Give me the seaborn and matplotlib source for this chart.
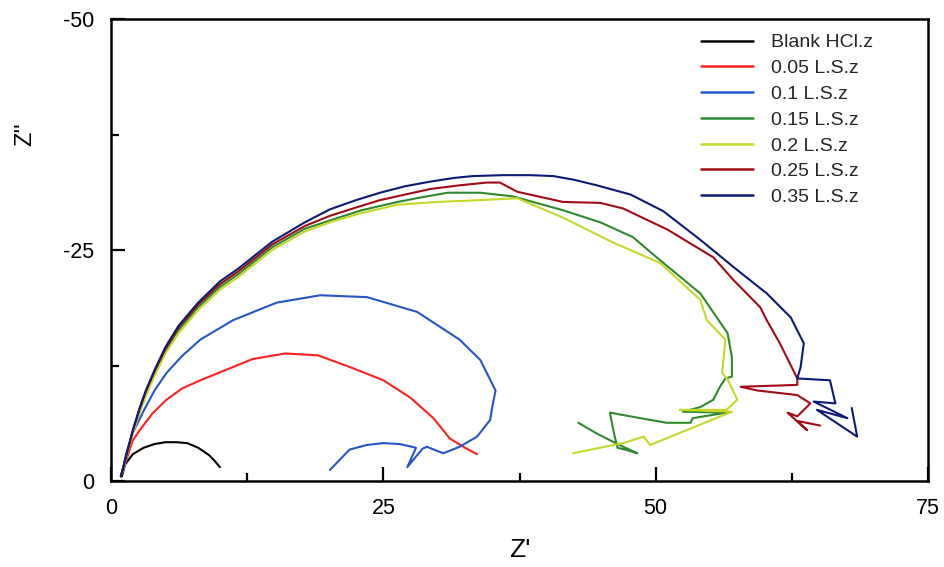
import matplotlib
matplotlib.use("Agg")
import matplotlib.pyplot as plt
import seaborn as sns
import pandas as pd
from matplotlib.ticker import MultipleLocator

# ---------------- data (Z' , -Z'') ----------------
labels = ["Blank HCl.z", "0.05 L.S.z", "0.1 L.S.z", "0.15 L.S.z",
          "0.2 L.S.z", "0.25 L.S.z", "0.35 L.S.z"]
colors = ["#000000", "#ff2020", "#2456c8", "#2f8a2f", "#c4d828", "#a30a16", "#0c1a78"]

blank_x = [1.0, 1.3, 2.0, 3.0, 4.0, 5.0, 6.0, 7.0, 8.0, 9.0, 9.5, 10.0]
blank_y = [0.5, 1.8, 2.9, 3.6, 4.0, 4.2, 4.2, 4.1, 3.6, 2.8, 2.2, 1.5]

s005_x = [1.0, 1.5, 2.0, 2.7, 3.8, 5.1, 6.5, 8.2, 10.5, 13.0, 16.0, 19.0, 22.0,
          25.0, 27.5, 29.6, 31.1, 32.5, 33.6]
s005_y = [0.8, 2.6, 4.4, 5.6, 7.3, 8.8, 10.0, 10.9, 12.0, 13.2, 13.8, 13.6, 12.3,
          10.9, 9.0, 6.8, 4.6, 3.6, 2.9]

s01_x = [1.0, 1.4, 2.0, 3.0, 4.0, 5.1, 6.5, 8.2, 11.2, 15.2, 19.2, 23.5, 28.1, 32.0,
         33.9, 35.3, 35.0, 34.8, 33.6, 32.0, 30.5, 29.0, 28.6, 27.2, 28.0, 26.5,
         25.0, 23.5, 21.9, 20.1]
s01_y = [0.8, 3.0, 5.2, 7.6, 9.8, 11.7, 13.5, 15.3, 17.4, 19.3, 20.1, 19.9, 18.3, 15.3,
         13.1, 9.8, 8.0, 6.6, 4.8, 3.7, 3.0, 3.7, 3.5, 1.5, 3.6, 4.0,
         4.1, 3.9, 3.4, 1.2]

s015_x = [0.9, 1.2, 1.5, 2.0, 2.6, 3.2, 4.0, 5.0, 6.2, 8.0, 10.0, 11.7, 14.8, 17.8,
          20.1, 23.0, 26.3, 28.5, 30.9, 33.9, 36.9, 41.5, 44.9, 47.9, 50.4, 54.1,
          56.6, 57.0, 57.0, 56.4, 55.9, 55.3, 54.1, 52.5, 56.5, 53.4, 53.2, 51.0,
          48.6, 45.8, 46.2, 46.5, 47.2, 48.3, 46.5, 44.5, 42.9]
s015_y = [0.5, 1.7, 3.1, 5.3, 7.5, 9.5, 11.7, 14.1, 16.3, 18.8, 21.0, 22.4, 25.3, 27.3,
          28.2, 29.3, 30.2, 30.7, 31.2, 31.2, 30.8, 29.3, 28.0, 26.4, 23.9, 20.3,
          16.0, 13.4, 11.3, 11.1, 10.2, 8.8, 8.0, 7.5, 7.4, 6.8, 6.3, 6.3,
          6.8, 7.4, 5.0, 3.6, 3.4, 3.0, 4.0, 5.2, 6.3]

s02_x = [0.9, 1.2, 1.5, 2.0, 2.6, 3.2, 4.0, 5.0, 6.2, 8.0, 10.0, 11.7, 14.8, 17.8,
         20.1, 23.0, 26.3, 30.0, 33.9, 37.3, 41.5, 46.1, 50.4, 54.1, 54.7, 56.4,
         56.1, 56.6, 57.5, 56.5, 52.2, 57.0, 49.5, 48.9, 47.0, 42.4]
s02_y = [0.5, 1.6, 3.0, 5.1, 7.3, 9.2, 11.4, 13.8, 16.0, 18.5, 20.7, 22.1, 25.0, 27.0,
         28.0, 29.0, 29.9, 30.2, 30.4, 30.6, 28.5, 25.8, 23.6, 19.6, 17.4, 15.3,
         11.7, 11.0, 8.8, 7.7, 7.7, 7.5, 3.9, 4.8, 4.1, 3.0]

s025_x = [0.9, 1.2, 1.5, 2.0, 2.6, 3.2, 4.0, 5.0, 6.2, 8.0, 10.0, 11.7, 14.8, 17.8,
          20.1, 22.5, 24.7, 27.0, 29.3, 32.0, 34.5, 35.7, 37.3, 41.5, 44.9, 47.0,
          51.1, 55.3, 57.1, 59.6, 60.2, 61.4, 63.0, 63.0, 57.8, 59.3, 63.0, 64.2,
          63.0, 62.1, 63.9, 63.0, 65.1]
s025_y = [0.5, 1.8, 3.2, 5.4, 7.7, 9.7, 11.9, 14.3, 16.6, 19.1, 21.3, 22.7, 25.6, 27.6,
          28.7, 29.6, 30.4, 31.0, 31.6, 32.0, 32.3, 32.3, 31.3, 30.2, 30.1, 29.5,
          27.2, 24.2, 21.8, 18.8, 17.4, 14.9, 11.1, 10.4, 10.2, 9.8, 9.3, 8.4,
          7.0, 7.4, 5.5, 6.5, 6.0]

s035_x = [0.9, 1.2, 1.5, 2.0, 2.6, 3.2, 4.0, 5.0, 6.2, 8.0, 10.0, 11.7, 14.8, 17.8,
          20.1, 22.5, 24.7, 27.0, 29.3, 31.5, 33.2, 36.0, 38.5, 40.6, 42.5, 44.6,
          47.7, 50.7, 54.1, 57.1, 60.2, 62.4, 63.6, 63.3, 63.0, 66.0, 66.5, 64.5,
          67.6, 64.8, 68.5, 68.0]
s035_y = [0.5, 1.8, 3.2, 5.5, 7.8, 9.8, 12.0, 14.5, 16.8, 19.3, 21.6, 23.0, 25.9, 28.0,
          29.4, 30.4, 31.2, 31.9, 32.4, 32.8, 33.0, 33.1, 33.1, 33.0, 32.6, 32.0,
          31.0, 29.2, 26.1, 23.2, 20.3, 17.7, 14.9, 12.3, 11.1, 10.9, 8.4, 8.6,
          6.8, 7.7, 4.8, 7.9]

series_x = [blank_x, s005_x, s01_x, s015_x, s02_x, s025_x, s035_x]
series_y = [blank_y, s005_y, s01_y, s015_y, s02_y, s025_y, s035_y]

# ---------------- plotting ----------------
sns.set_theme(style="white")
plt.rcParams["font.family"] = ["Liberation Sans", "DejaVu Sans"]
plt.rcParams["axes.unicode_minus"] = False

fig = plt.figure(figsize=(9.44, 5.67), dpi=100)
ax = fig.add_axes([111 / 944, 1 - 481 / 567, 817 / 944, 462 / 567])

for lab, col, xs, ys in zip(labels, colors, series_x, series_y):
    df = pd.DataFrame({"Zr": xs, "Zi": [-v for v in ys]})
    sns.lineplot(data=df, x="Zr", y="Zi", sort=False, estimator=None,
                 color=col, linewidth=1.5, label=lab, ax=ax)

ax.set_xlim(0, 75)
ax.set_ylim(0, -50)
ax.xaxis.set_major_locator(MultipleLocator(25))
ax.xaxis.set_minor_locator(MultipleLocator(12.5))
ax.yaxis.set_major_locator(MultipleLocator(25))
ax.yaxis.set_minor_locator(MultipleLocator(12.5))
ax.tick_params(which="major", direction="in", length=10, width=1.6,
               labelsize=15.5, pad=12, colors="black")
ax.tick_params(which="minor", direction="in", length=6, width=1.6, colors="black")
ax.tick_params(axis="both", which="both", bottom=True, left=True, top=False, right=False)
for sp in ax.spines.values():
    sp.set_color("black")
    sp.set_linewidth(1.8)

ax.set_xlabel("Z'", fontsize=19, color="black", va="center")
ax.set_ylabel("Z''", fontsize=17, color="black", va="center")
ax.xaxis.set_label_coords(0.50, -0.150)
ax.yaxis.set_label_coords(-0.105, 0.75)

leg = ax.legend(loc="upper left", bbox_to_anchor=(0.722, 0.968), frameon=False,
                fontsize=14, handlelength=2.7, handletextpad=0.9,
                labelspacing=0.42, borderaxespad=0, borderpad=0)
for line in leg.get_lines():
    line.set_linewidth(1.8)

fig.savefig("out.png", dpi=100)
